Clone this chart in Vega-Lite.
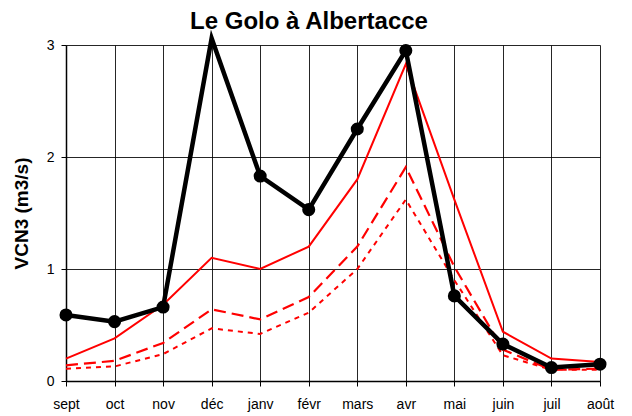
{
  "$schema": "https://vega.github.io/schema/vega-lite/v6.json",
  "width": 534,
  "height": 336,
  "autosize": {"type": "none"},
  "padding": {"left": 66, "top": 45, "right": 32, "bottom": 35},
  "background": "white",
  "title": {
    "text": "Le Golo à Albertacce",
    "font": "Liberation Sans",
    "fontSize": 24,
    "fontWeight": "bold",
    "color": "black",
    "anchor": "middle",
    "frame": "group",
    "offset": -5,
    "dx": -24
  },
  "config": {
    "view": {"stroke": null},
    "font": "Liberation Sans"
  },
  "data": {
    "values": [
      {"mois": "sept", "serie": "obs", "v": 0.59},
      {"mois": "oct", "serie": "obs", "v": 0.53},
      {"mois": "nov", "serie": "obs", "v": 0.66},
      {"mois": "déc", "serie": "obs", "v": 3.06},
      {"mois": "janv", "serie": "obs", "v": 1.83},
      {"mois": "févr", "serie": "obs", "v": 1.53},
      {"mois": "mars", "serie": "obs", "v": 2.25},
      {"mois": "avr", "serie": "obs", "v": 2.95},
      {"mois": "mai", "serie": "obs", "v": 0.76},
      {"mois": "juin", "serie": "obs", "v": 0.33},
      {"mois": "juil", "serie": "obs", "v": 0.12},
      {"mois": "août", "serie": "obs", "v": 0.15},

      {"mois": "sept", "serie": "moy", "v": 0.2},
      {"mois": "oct", "serie": "moy", "v": 0.38},
      {"mois": "nov", "serie": "moy", "v": 0.68},
      {"mois": "déc", "serie": "moy", "v": 1.1},
      {"mois": "janv", "serie": "moy", "v": 1.0},
      {"mois": "févr", "serie": "moy", "v": 1.2},
      {"mois": "mars", "serie": "moy", "v": 1.8},
      {"mois": "avr", "serie": "moy", "v": 2.83},
      {"mois": "mai", "serie": "moy", "v": 1.62},
      {"mois": "juin", "serie": "moy", "v": 0.44},
      {"mois": "juil", "serie": "moy", "v": 0.2},
      {"mois": "août", "serie": "moy", "v": 0.17},

      {"mois": "sept", "serie": "q2", "v": 0.14},
      {"mois": "oct", "serie": "q2", "v": 0.18},
      {"mois": "nov", "serie": "q2", "v": 0.34},
      {"mois": "déc", "serie": "q2", "v": 0.64},
      {"mois": "janv", "serie": "q2", "v": 0.55},
      {"mois": "févr", "serie": "q2", "v": 0.75},
      {"mois": "mars", "serie": "q2", "v": 1.2},
      {"mois": "avr", "serie": "q2", "v": 1.91},
      {"mois": "mai", "serie": "q2", "v": 1.02},
      {"mois": "juin", "serie": "q2", "v": 0.28},
      {"mois": "juil", "serie": "q2", "v": 0.1},
      {"mois": "août", "serie": "q2", "v": 0.11},

      {"mois": "sept", "serie": "q5", "v": 0.11},
      {"mois": "oct", "serie": "q5", "v": 0.13},
      {"mois": "nov", "serie": "q5", "v": 0.24},
      {"mois": "déc", "serie": "q5", "v": 0.47},
      {"mois": "janv", "serie": "q5", "v": 0.42},
      {"mois": "févr", "serie": "q5", "v": 0.61},
      {"mois": "mars", "serie": "q5", "v": 1.0},
      {"mois": "avr", "serie": "q5", "v": 1.62},
      {"mois": "mai", "serie": "q5", "v": 0.9},
      {"mois": "juin", "serie": "q5", "v": 0.23},
      {"mois": "juil", "serie": "q5", "v": 0.1},
      {"mois": "août", "serie": "q5", "v": 0.1}
    ]
  },
  "encoding": {
    "x": {
      "field": "mois",
      "type": "ordinal",
      "sort": ["sept", "oct", "nov", "déc", "janv", "févr", "mars", "avr", "mai", "juin", "juil", "août"],
      "scale": {"type": "point", "padding": 0},
      "axis": {
        "title": null,
        "labelAngle": 0,
        "labelFont": "Liberation Sans",
        "labelFontSize": 14,
        "labelColor": "black",
        "labelPadding": 11,
        "tickSize": 5,
        "tickColor": "black",
        "domainColor": "black",
        "domainWidth": 1.5,
        "grid": true,
        "gridColor": "black",
        "gridWidth": 1,
        "gridOpacity": 0.85
      }
    },
    "y": {
      "field": "v",
      "type": "quantitative",
      "scale": {"domain": [0, 3], "nice": false, "zero": true},
      "axis": {
        "title": "VCN3 (m3/s)",
        "titleFont": "Liberation Sans",
        "titleFontSize": 19,
        "titleFontWeight": "bold",
        "titleColor": "black",
        "titlePadding": 15,
        "values": [0, 1, 2, 3],
        "labelFont": "Liberation Sans",
        "labelFontSize": 14,
        "labelColor": "black",
        "labelPadding": 7,
        "tickSize": 5,
        "tickColor": "black",
        "domainColor": "black",
        "domainWidth": 1.5,
        "grid": true,
        "gridColor": "black",
        "gridWidth": 1,
        "gridOpacity": 0.85
      }
    }
  },
  "layer": [
    {
      "transform": [{"filter": "datum.serie === 'q5'"}],
      "mark": {"type": "line", "color": "red", "strokeWidth": 2, "strokeDash": [5, 5]}
    },
    {
      "transform": [{"filter": "datum.serie === 'q2'"}],
      "mark": {"type": "line", "color": "red", "strokeWidth": 2.2, "strokeDash": [12, 6]}
    },
    {
      "transform": [{"filter": "datum.serie === 'moy'"}],
      "mark": {"type": "line", "color": "red", "strokeWidth": 2}
    },
    {
      "transform": [{"filter": "datum.serie === 'obs'"}],
      "mark": {"type": "line", "color": "black", "strokeWidth": 4.5}
    },
    {
      "transform": [{"filter": "datum.serie === 'obs' && datum.v <= 3"}],
      "mark": {"type": "circle", "color": "black", "size": 170, "opacity": 1}
    }
  ]
}
